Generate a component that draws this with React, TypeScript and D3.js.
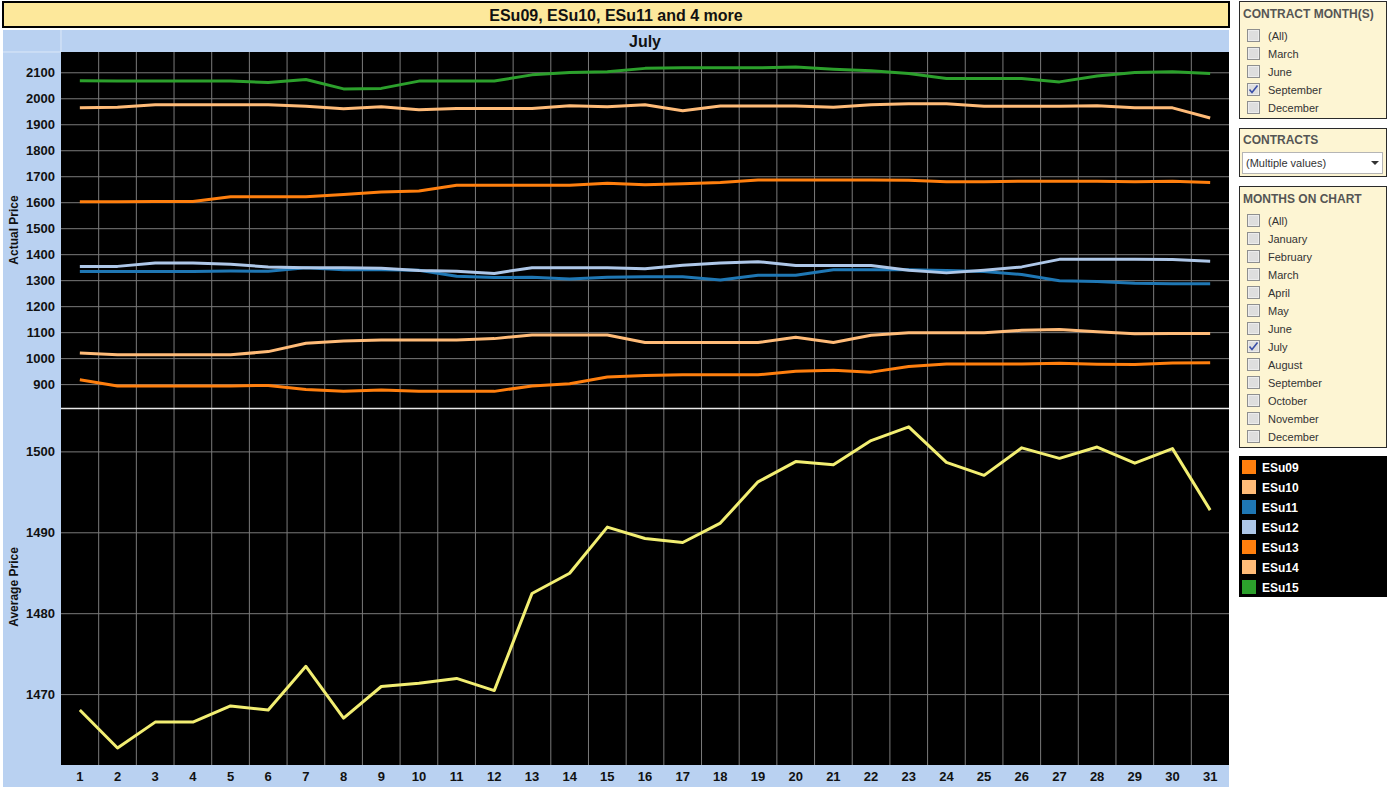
import React from 'react';
import * as d3 from 'd3';

// days of July on the x axis
const days = ['1','2','3','4','5','6','7','8','9','10','11','12','13','14','15','16','17','18','19','20','21','22','23','24','25','26','27','28','29','30','31'];

const contracts = ['ESu09', 'ESu10', 'ESu11', 'ESu12', 'ESu13', 'ESu14', 'ESu15'];
const contractColors = ['#ff7f0e', '#ffbb78', '#1f77b4', '#aec7e8', '#ff7f0e', '#ffbb78', '#2ca02c'];

const esu09 = [919,895,895,895,895,897,881,874,879,874,874,874,895,903,929,935,938,938,938,951,955,948,970,979,979,979,982,978,977,983,984];
const esu10 = [1022,1015,1015,1015,1015,1027,1059,1068,1072,1072,1072,1077,1091,1091,1091,1062,1062,1062,1062,1082,1062,1090,1100,1100,1100,1109,1112,1103,1096,1097,1097];
const esu11 = [1335,1335,1335,1335,1337,1336,1350,1342,1342,1340,1317,1312,1313,1306,1313,1315,1315,1303,1321,1321,1342,1342,1342,1339,1335,1324,1300,1297,1290,1288,1288];
const esu12 = [1355,1355,1368,1368,1363,1353,1350,1350,1348,1339,1336,1328,1350,1350,1350,1346,1359,1368,1373,1358,1358,1358,1340,1330,1340,1353,1382,1382,1382,1381,1375];
const esu13 = [1604,1604,1605,1605,1623,1623,1623,1632,1641,1645,1667,1667,1667,1667,1675,1669,1673,1678,1687,1687,1687,1687,1686,1681,1681,1683,1683,1683,1681,1683,1678];
const esu14 = [1965,1967,1977,1977,1977,1977,1971,1962,1969,1958,1963,1963,1963,1973,1969,1977,1954,1972,1972,1972,1967,1977,1981,1981,1971,1971,1971,1973,1965,1965,1926];
const esu15 = [2069,2068,2068,2068,2068,2063,2074,2038,2040,2068,2068,2068,2092,2101,2104,2117,2119,2119,2119,2122,2114,2108,2097,2078,2078,2078,2065,2088,2101,2104,2097];
const averagePrice = [1468.1,1463.4,1466.6,1466.6,1468.6,1468.1,1473.5,1467.1,1471.0,1471.4,1472.0,1470.5,1482.5,1485.0,1490.7,1489.3,1488.8,1491.2,1496.3,1498.8,1498.4,1501.4,1503.1,1498.7,1497.1,1500.5,1499.2,1500.6,1498.6,1500.4,1492.8];

const actualTicks = [900, 1000, 1100, 1200, 1300, 1400, 1500, 1600, 1700, 1800, 1900, 2000, 2100];
const averageTicks = [1470, 1480, 1490, 1500];

const contractMonths = ['(All)', 'March', 'June', 'September', 'December'];
const chartMonths = ['(All)', 'January', 'February', 'March', 'April', 'May', 'June', 'July', 'August', 'September', 'October', 'November', 'December'];

const W = 1388;
const H = 787;
const FONT = '"Liberation Sans", Arial, sans-serif';
const BLUE = '#b9d1f1';
const PANEL = '#fdf5d3';

function Checkbox({ x, y, checked }: { x: number; y: number; checked: boolean }) {
  return (
    <g transform={`translate(${x},${y})`}>
      <rect x={0.5} y={0.5} width={12} height={12} fill="#ececec" stroke="#8e8f8f" />
      <rect x={2} y={2} width={9} height={9} fill="#dedede" />
      {checked && (
        <path d="M2.5,6.5 L5,9.5 L10.5,2.5" fill="none" stroke="#3a4fa8" strokeWidth={1.6} />
      )}
    </g>
  );
}

function FilterPanel({ y, h, title, items, checked }: { y: number; h: number; title: string; items: string[]; checked: string }) {
  return (
    <g>
      <rect x={1239.5} y={y + 0.5} width={147} height={h} fill={PANEL} stroke="#2a2a2a" />
      <text x={1243} y={y + 17} fontFamily={FONT} fontSize={12} fontWeight="bold" fill="#555">{title}</text>
      {items.map((it, i) => (
        <g key={it + i}>
          <Checkbox x={1247} y={y + 28 + i * 18} checked={it === checked} />
          <text x={1268} y={y + 38.5 + i * 18} fontFamily={FONT} fontSize={11} fill="#333">{it}</text>
        </g>
      ))}
    </g>
  );
}

export default function App() {
  const plotL = 61;
  const plotR = 1229;
  const topT = 52;
  const topB = 408;
  const botT = 409;
  const botB = 765;

  const x = d3.scaleBand<string>().domain(days).range([plotL, plotR]).padding(0);
  const cx = (d: string) => (x(d) as number) + x.bandwidth() / 2;
  const yTop = d3.scaleLinear().domain([810, 2180]).range([topB, topT]);
  const yBot = d3.scaleLinear().domain([1461.3, 1505.3]).range([botB, botT]);

  const series = [esu09, esu10, esu11, esu12, esu13, esu14, esu15];
  const lineTop = d3.line<number>().x((_, i) => cx(days[i])).y(v => yTop(v));
  const lineBot = d3.line<number>().x((_, i) => cx(days[i])).y(v => yBot(v));

  const vGrid = days.slice(1).map(d => x(d) as number);

  return (
    <div style={{ position: 'absolute', left: 0, top: 0, width: W, height: H, background: '#fff' }}>
      <svg width={W} height={H} style={{ display: 'block' }}>
        {/* title box */}
        <rect x={3} y={2} width={1226} height={25} fill="#fde89b" stroke="#000" strokeWidth={2} />
        <text x={616} y={20.5} textAnchor="middle" fontFamily={FONT} fontSize={16} fontWeight="bold" fill="#111">
          ESu09, ESu10, ESu11 and 4 more
        </text>

        {/* blue frame */}
        <rect x={3} y={30} width={1226} height={H - 30} fill={BLUE} />
        <line x1={plotL} x2={plotL} y1={30} y2={topT} stroke="#dce8f8" />
        <line x1={3} x2={plotL} y1={topT} y2={topT} stroke="#dce8f8" />
        <text x={(plotL + plotR) / 2} y={47} textAnchor="middle" fontFamily={FONT} fontSize={16} fontWeight="bold" fill="#111">July</text>

        {/* plot backgrounds */}
        <rect x={plotL} y={topT} width={plotR - plotL} height={botB - topT} fill="#000" />

        {/* grid */}
        {vGrid.map((gx, i) => (
          <line key={'v' + i} x1={gx} x2={gx} y1={topT} y2={botB} stroke="#7a7a7a" strokeWidth={1} />
        ))}
        {actualTicks.map(t => (
          <line key={'ht' + t} x1={plotL} x2={plotR} y1={yTop(t)} y2={yTop(t)} stroke="#7a7a7a" strokeWidth={1} />
        ))}
        {averageTicks.map(t => (
          <line key={'hb' + t} x1={plotL} x2={plotR} y1={yBot(t)} y2={yBot(t)} stroke="#7a7a7a" strokeWidth={1} />
        ))}
        <line x1={plotL} x2={plotR} y1={topB + 0.5} y2={topB + 0.5} stroke="#e8e8e8" strokeWidth={1.5} />

        {/* contract lines */}
        {series.map((s, i) => (
          <path key={contracts[i]} d={lineTop(s) as string} fill="none" stroke={contractColors[i]} strokeWidth={3} strokeLinejoin="round" />
        ))}
        <path d={lineBot(averagePrice) as string} fill="none" stroke="#f2ee72" strokeWidth={3} strokeLinejoin="round" />

        {/* y tick labels */}
        {actualTicks.map(t => (
          <text key={'lt' + t} x={55} y={yTop(t) + 4.5} textAnchor="end" fontFamily={FONT} fontSize={13} fontWeight="bold" fill="#111">{t}</text>
        ))}
        {averageTicks.map(t => (
          <text key={'lb' + t} x={55} y={yBot(t) + 4.5} textAnchor="end" fontFamily={FONT} fontSize={13} fontWeight="bold" fill="#111">{t}</text>
        ))}
        <text transform={`translate(18,${(topT + topB) / 2}) rotate(-90)`} textAnchor="middle" fontFamily={FONT} fontSize={12} fontWeight="bold" fill="#111">Actual Price</text>
        <text transform={`translate(18,${(botT + botB) / 2}) rotate(-90)`} textAnchor="middle" fontFamily={FONT} fontSize={12} fontWeight="bold" fill="#111">Average Price</text>

        {/* x tick labels */}
        {days.map(d => (
          <text key={'x' + d} x={cx(d)} y={781} textAnchor="middle" fontFamily={FONT} fontSize={13} fontWeight="bold" fill="#111">{d}</text>
        ))}

        {/* side filters */}
        <FilterPanel y={1} h={117} title="CONTRACT MONTH(S)" items={contractMonths} checked="September" />
        <g>
          <rect x={1239.5} y={128.5} width={147} height={48} fill={PANEL} stroke="#2a2a2a" />
          <text x={1243} y={144} fontFamily={FONT} fontSize={12} fontWeight="bold" fill="#555">CONTRACTS</text>
          <rect x={1242.5} y={152.5} width={140} height={21} fill="#fff" stroke="#b5b5b5" />
          <text x={1246} y={167} fontFamily={FONT} fontSize={11} fill="#333">(Multiple values)</text>
          <path d="M1371,161 L1379,161 L1375,165 Z" fill="#333" />
        </g>
        <FilterPanel y={186} h={261} title="MONTHS ON CHART" items={chartMonths} checked="July" />

        {/* legend */}
        <rect x={1239} y={456} width={148} height={141} fill="#000" />
        {contracts.map((c, i) => (
          <g key={'lg' + c}>
            <rect x={1242} y={460 + i * 20} width={14} height={14} fill={contractColors[i]} />
            <text x={1262} y={471.5 + i * 20} fontFamily={FONT} fontSize={12} fontWeight="bold" fill="#fff">{c}</text>
          </g>
        ))}
      </svg>
    </div>
  );
}
